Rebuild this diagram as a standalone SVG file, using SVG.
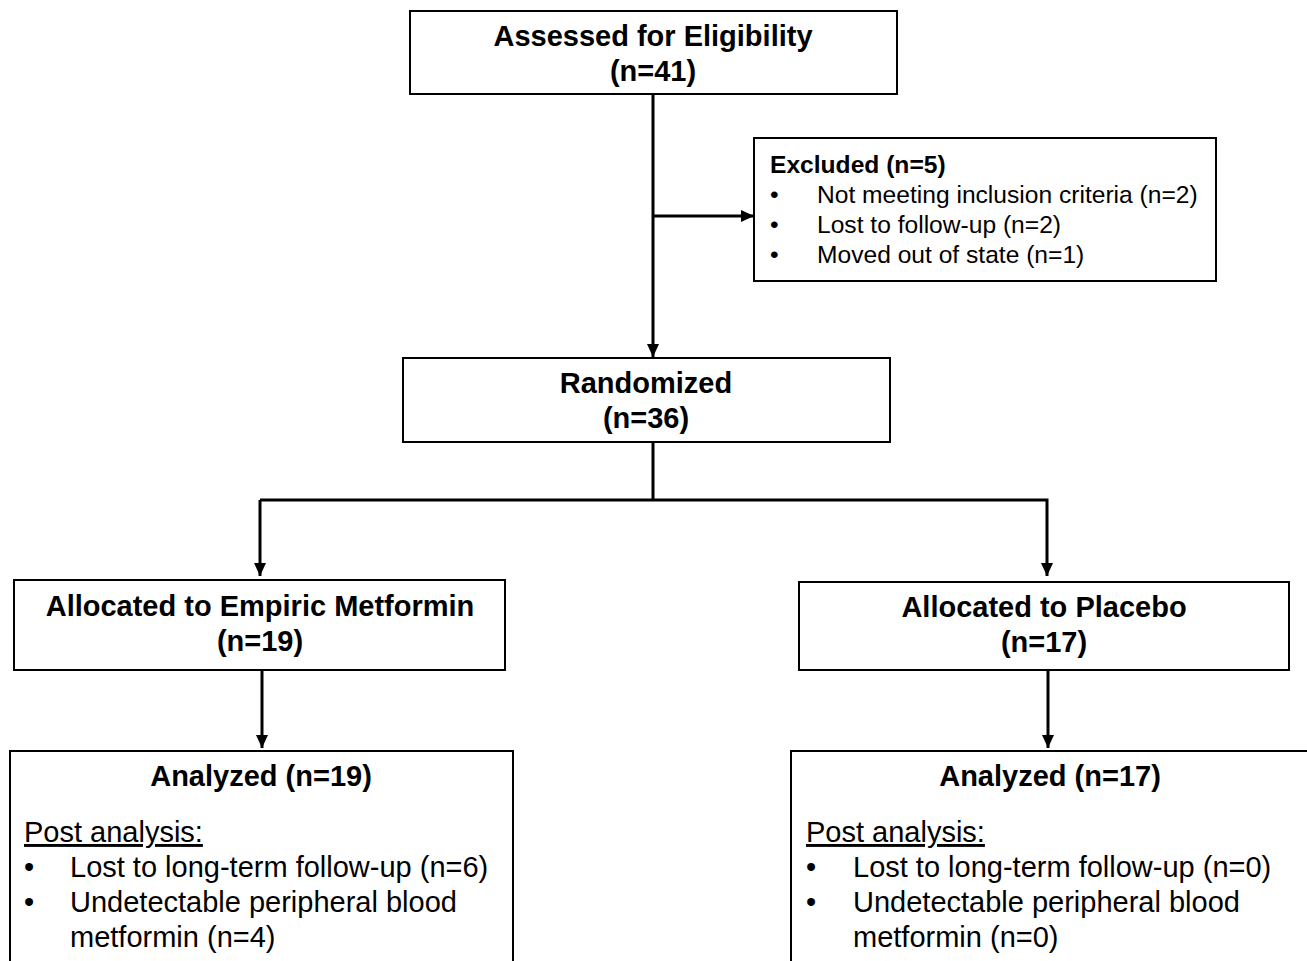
<svg xmlns="http://www.w3.org/2000/svg" width="1307" height="961" viewBox="0 0 1307 961">
<style>
.box{fill:#fff;stroke:#000;stroke-width:2}
.t{font-family:"Liberation Sans",Arial,sans-serif;fill:#000}
.h{font-size:29px;font-weight:bold;text-anchor:middle}
.s{font-size:24.6px}
.sb{font-size:24.6px;font-weight:bold}
.b{font-size:29px}
.ln{fill:none;stroke:#000;stroke-width:3}
</style>
<defs>
<marker id="ah" markerUnits="userSpaceOnUse" markerWidth="14" markerHeight="14" viewBox="0 0 14 14" refX="13" refY="7" orient="auto">
<path d="M0,1 L13,7 L0,13 Z" fill="#000"/>
</marker>
</defs>
<rect width="1307" height="961" fill="#fff"/>
<g id="connectors">
<line class="ln" x1="653" y1="94" x2="653" y2="357" marker-end="url(#ah)"/>
<line class="ln" x1="653" y1="216" x2="754" y2="216" marker-end="url(#ah)"/>
<line class="ln" x1="653" y1="442" x2="653" y2="500"/>
<polyline class="ln" points="260,500 1047,500 1047,576" marker-end="url(#ah)"/>
<line class="ln" x1="260" y1="500" x2="260" y2="576" marker-end="url(#ah)"/>
<line class="ln" x1="262" y1="671" x2="262" y2="748" marker-end="url(#ah)"/>
<line class="ln" x1="1048" y1="671" x2="1048" y2="748" marker-end="url(#ah)"/>
</g>
<g id="assessed">
<rect class="box" x="410" y="11" width="487" height="83"/>
<text class="t h" x="653" y="46">Assessed for Eligibility</text>
<text class="t h" x="653" y="81">(n=41)</text>
</g>
<g id="excluded">
<rect class="box" x="754" y="138" width="462" height="143"/>
<text class="t sb" x="770" y="173">Excluded (n=5)</text>
<text class="t s" x="770" y="203">•</text>
<text class="t s" x="817" y="203">Not meeting inclusion criteria (n=2)</text>
<text class="t s" x="770" y="233">•</text>
<text class="t s" x="817" y="233">Lost to follow-up (n=2)</text>
<text class="t s" x="770" y="263">•</text>
<text class="t s" x="817" y="263">Moved out of state (n=1)</text>
</g>
<g id="randomized">
<rect class="box" x="403" y="358" width="487" height="84"/>
<text class="t h" x="646" y="393">Randomized</text>
<text class="t h" x="646" y="428">(n=36)</text>
</g>
<g id="alloc-metformin">
<rect class="box" x="14" y="580" width="491" height="90"/>
<text class="t h" x="260" y="616">Allocated to Empiric Metformin</text>
<text class="t h" x="260" y="651">(n=19)</text>
</g>
<g id="alloc-placebo">
<rect class="box" x="799" y="582" width="490" height="88"/>
<text class="t h" x="1044" y="617">Allocated to Placebo</text>
<text class="t h" x="1044" y="652">(n=17)</text>
</g>
<g id="analyzed-metformin">
<rect class="box" x="10" y="751" width="503" height="230"/>
<text class="t h" x="261" y="786">Analyzed (n=19)</text>
<text class="t b" x="24" y="842" text-decoration="underline">Post analysis:</text>
<text class="t b" x="24" y="877">•</text>
<text class="t b" x="70" y="877">Lost to long-term follow-up (n=6)</text>
<text class="t b" x="24" y="912">•</text>
<text class="t b" x="70" y="912">Undetectable peripheral blood</text>
<text class="t b" x="70" y="947">metformin (n=4)</text>
</g>
<g id="analyzed-placebo">
<rect class="box" x="791" y="751" width="520" height="230"/>
<text class="t h" x="1050" y="786">Analyzed (n=17)</text>
<text class="t b" x="806" y="842" text-decoration="underline">Post analysis:</text>
<text class="t b" x="806" y="877">•</text>
<text class="t b" x="853" y="877">Lost to long-term follow-up (n=0)</text>
<text class="t b" x="806" y="912">•</text>
<text class="t b" x="853" y="912">Undetectable peripheral blood</text>
<text class="t b" x="853" y="947">metformin (n=0)</text>
</g>
</svg>
